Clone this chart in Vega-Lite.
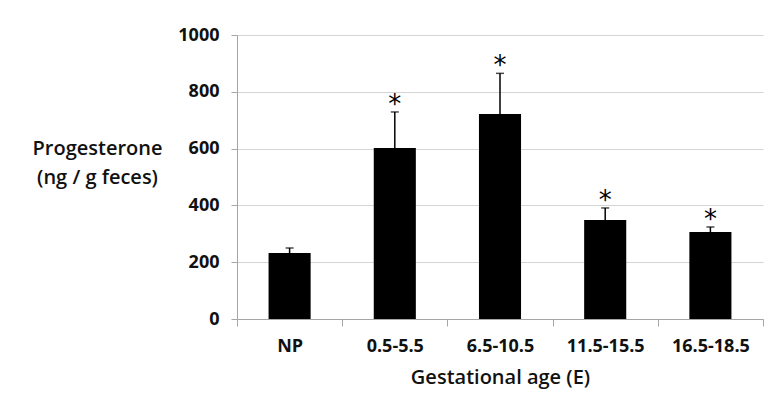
{
  "$schema": "https://vega.github.io/schema/vega-lite/v6.json",
  "width": 526,
  "height": 284,
  "autosize": {"type": "none"},
  "padding": {"left": 237, "top": 35, "right": 8, "bottom": 89},
  "background": "white",
  "config": {"view": {"stroke": null}, "font": "Open Sans"},
  "data": {
    "values": [
      {"group": "NP", "mean": 232, "err": 250, "sig": ""},
      {"group": "0.5-5.5", "mean": 602, "err": 729, "sig": "*"},
      {"group": "6.5-10.5", "mean": 722, "err": 865, "sig": "*"},
      {"group": "11.5-15.5", "mean": 349, "err": 391, "sig": "*"},
      {"group": "16.5-18.5", "mean": 306, "err": 324, "sig": "*"}
    ]
  },
  "encoding": {
    "x": {
      "field": "group",
      "type": "nominal",
      "sort": null,
      "scale": {"paddingInner": 0, "paddingOuter": 0},
      "axis": {
        "labelAngle": 0,
        "tickBand": "extent",
        "tickSize": 7,
        "tickColor": "#a6a6a6",
        "domainColor": "#a6a6a6",
        "labelFontSize": 18,
        "labelFontWeight": "bold",
        "labelColor": "#111111",
        "labelPadding": 11,
        "title": "Gestational age (E)",
        "titleFontSize": 20,
        "titleFontWeight": 600,
        "titleColor": "#111111",
        "titlePadding": 12
      }
    }
  },
  "layer": [
    {
      "mark": {"type": "bar", "color": "black", "width": {"band": 0.4}},
      "encoding": {
        "y": {
          "field": "mean",
          "type": "quantitative",
          "scale": {"domain": [0, 1000]},
          "axis": {
            "values": [0, 200, 400, 600, 800, 1000],
            "format": "d",
            "grid": true,
            "gridColor": "#d4d4d4",
            "domainColor": "#a6a6a6",
            "tickColor": "#a6a6a6",
            "tickSize": 6,
            "labelPadding": 12,
            "labelFontSize": 18,
            "labelFontWeight": "bold",
            "labelColor": "#111111",
            "title": ["Progesterone", "(ng / g feces)"],
            "titleAngle": 0,
            "titleX": -140,
            "titleY": 113,
            "titleAlign": "center",
            "titleBaseline": "middle",
            "titleFontSize": 20,
            "titleFontWeight": 600,
            "titleColor": "#111111",
            "titleLineHeight": 29
          }
        }
      }
    },
    {
      "mark": {"type": "rule", "color": "black", "strokeWidth": 1.5},
      "encoding": {
        "y": {"field": "mean", "type": "quantitative"},
        "y2": {"field": "err"}
      }
    },
    {
      "mark": {"type": "tick", "color": "black", "thickness": 1.5, "size": 8},
      "encoding": {"y": {"field": "err", "type": "quantitative"}}
    },
    {
      "mark": {"type": "text", "fontSize": 26, "baseline": "alphabetic", "dy": 1, "color": "black", "font": "DejaVu Sans"},
      "encoding": {
        "y": {"field": "err", "type": "quantitative"},
        "text": {"field": "sig"}
      }
    }
  ]
}
